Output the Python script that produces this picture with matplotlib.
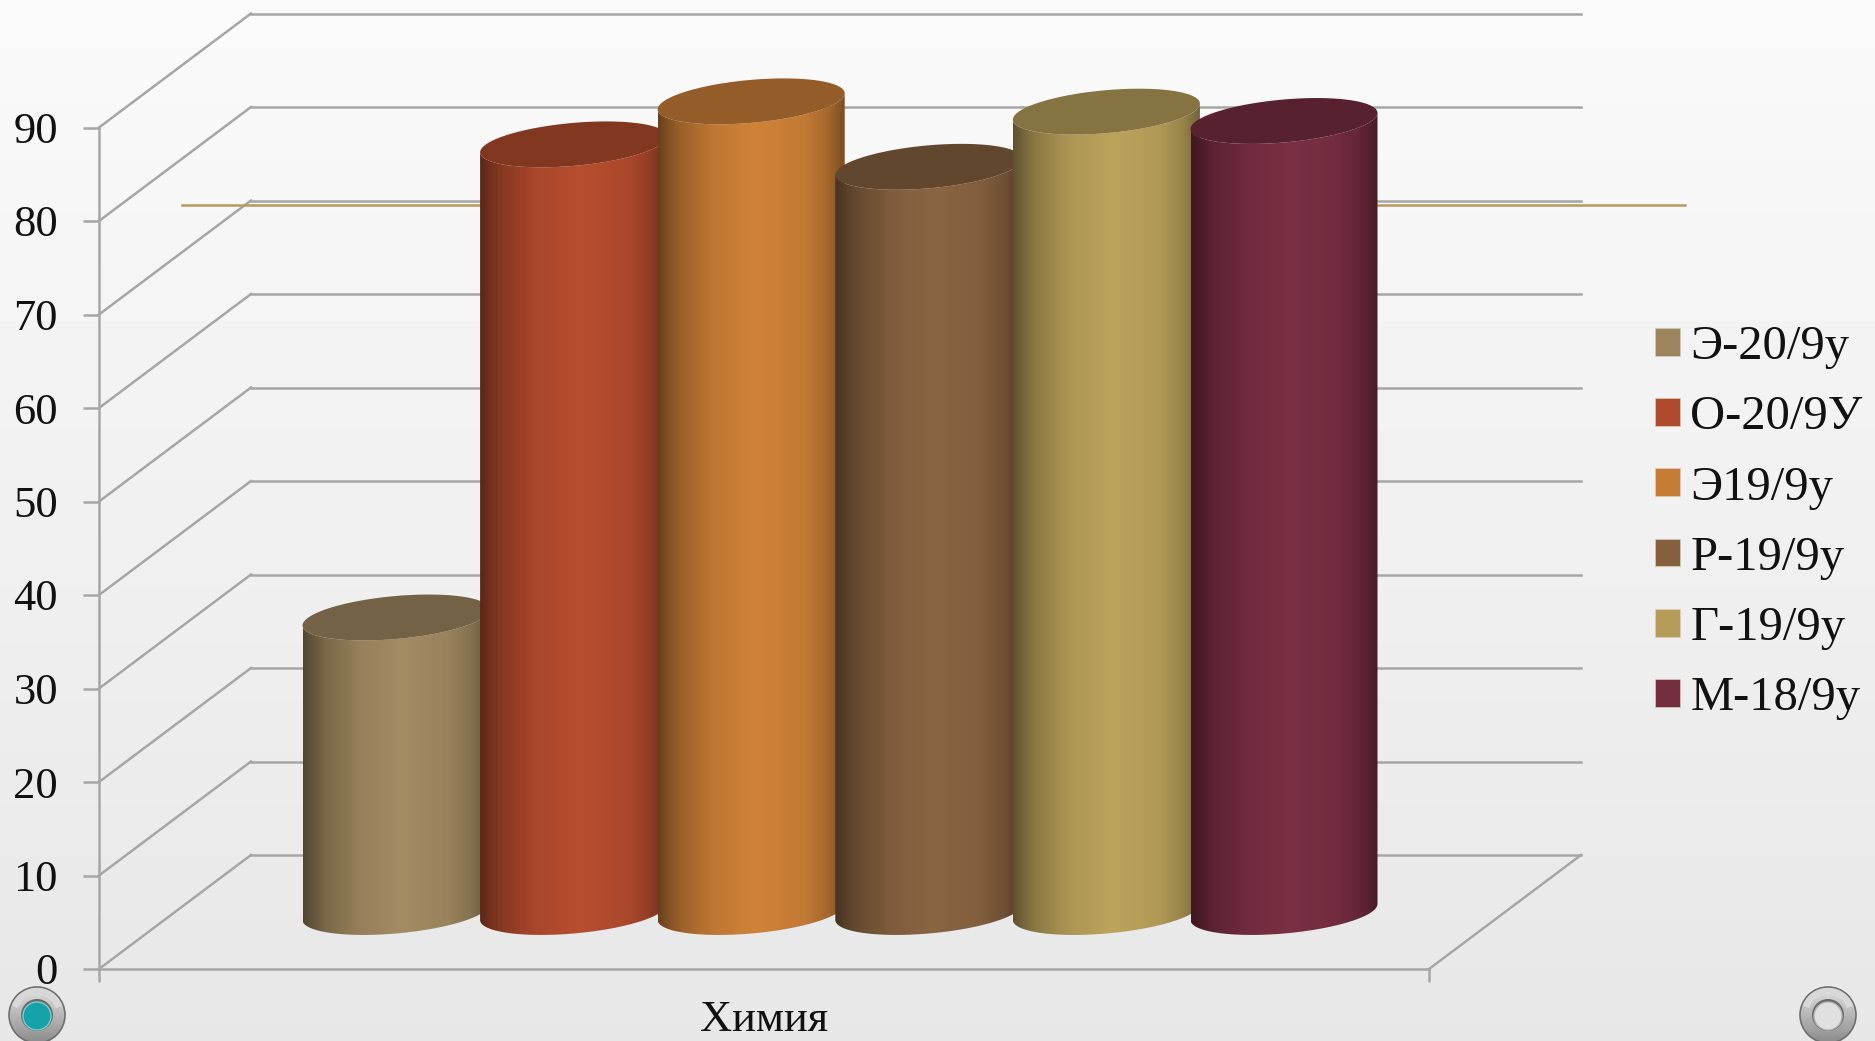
import numpy as np
import matplotlib
matplotlib.use("Agg")
import matplotlib.pyplot as plt
from matplotlib.patches import Circle, Patch, PathPatch, Wedge
from matplotlib.path import Path
from matplotlib.colors import to_rgb

# ---------- data ----------
category = ["Химия"]
series_names = ["Э-20/9у", "О-20/9У", "Э19/9у", "Р-19/9у", "Г-19/9у", "М-18/9у"]
series_values = [31.5, 82.1, 86.7, 79.7, 85.6, 84.6]
series_colors = ["#9C855E", "#AF4A2D", "#C77C36", "#84603F", "#B49C58", "#752D40"]
y_ticks = [0, 10, 20, 30, 40, 50, 60, 70, 80, 90]
reference_level = 81.7

# ---------- layout (pixels of the 1875x1041 canvas) ----------
W, H = 1875, 1041
DPI = 100
LEFT, RIGHT, BOTTOM, TOP = 99, 1429, 969, 127.5
PX_PER_UNIT = (BOTTOM - TOP) / 90
DEPTH_X = 152
DEPTH_Y = 114 / PX_PER_UNIT
GRID = "#A6A6A6"
FONT = ["Liberation Serif", "DejaVu Serif"]
FS = 32
LEGEND_FS = 35
BAR_STEP = 177.6
HALF_W = 93.5
TILT = 8 / PX_PER_UNIT
HALF_H = 21.5 / PX_PER_UNIT
LW = 1.8

plt.rcParams["font.family"] = FONT
fig = plt.figure(figsize=(W / DPI, H / DPI), dpi=DPI)

# ---------- slide background ----------
bg = fig.add_axes([0, 0, 1, 1], zorder=-1)
bg.set_xlim(0, W)
bg.set_ylim(H, 0)
bg.axis("off")
bg_grad = np.linspace(0.98, 0.905, 256).reshape(-1, 1)
bg.imshow(bg_grad, cmap="gray", vmin=0, vmax=1, extent=[0, W, H, 0], aspect="auto", zorder=0)


def button(cx, cy, inner, inner_edge):
    ring = np.linspace(0.88, 0.55, 64).reshape(-1, 1)
    disc = Circle((cx, cy), 28, facecolor="none", edgecolor="#6E6E6E", lw=1.2, zorder=3)
    bg.add_patch(disc)
    im = bg.imshow(ring, cmap="gray", vmin=0, vmax=1, extent=[cx - 28, cx + 28, cy + 28, cy - 28],
                   aspect="auto", zorder=2)
    im.set_clip_path(Circle((cx, cy), 28, transform=bg.transData))
    bg.add_patch(Wedge((cx, cy), 27, 200, 340, width=7, facecolor="#D8D8D8", edgecolor="none", zorder=3))
    bg.add_patch(Circle((cx, cy), 16, facecolor="#6A6A6A", edgecolor="none", zorder=4))
    bg.add_patch(Circle((cx, cy + 1), 14, facecolor=inner, edgecolor=inner_edge, lw=1, zorder=5))


button(37, 1015, "#13A3A8", "#7CCBCB")
button(1828, 1015, "#E0E0E0", "#B5B5B5")
bg.set_xlim(0, W)
bg.set_ylim(H, 0)

# ---------- chart axes: front plane of the 3D box ----------
ax = fig.add_axes([LEFT / W, 1 - BOTTOM / H, (RIGHT - LEFT) / W, (BOTTOM - TOP) / H])
ax.patch.set_alpha(0)
ax.set_xlim(0, RIGHT - LEFT)
ax.set_ylim(0, 90)
for side in ("top", "right"):
    ax.spines[side].set_visible(False)
for side in ("left", "bottom"):
    ax.spines[side].set_color(GRID)
    ax.spines[side].set_linewidth(LW)
ax.set_yticks(y_ticks)
ax.tick_params(axis="y", length=11.5, width=LW, color=GRID, pad=18, labelsize=FS, labelcolor="#111111")
ax.set_xticks([(RIGHT - LEFT) / 2])
ax.set_xticklabels(category)
ax.tick_params(axis="x", which="major", length=0, pad=22, labelsize=FS, labelcolor="#111111")
ax.set_xticks([0, RIGHT - LEFT], minor=True)
ax.tick_params(axis="x", which="minor", length=9.5, width=LW, color=GRID)

# back wall, side wall and floor
x_end = RIGHT - LEFT
for v in y_ticks:
    ax.plot([0, DEPTH_X], [v, v + DEPTH_Y], color=GRID, lw=LW, clip_on=False, zorder=1)
    ax.plot([DEPTH_X, x_end + DEPTH_X], [v + DEPTH_Y] * 2, color=GRID, lw=LW, clip_on=False, zorder=1)
ax.plot([x_end, x_end + DEPTH_X], [0, DEPTH_Y], color=GRID, lw=LW, clip_on=False, zorder=1)

# reference line drawn across the slide
ax.plot([83, 1586], [reference_level] * 2, color="#B89A5E", lw=1.8, clip_on=False, zorder=1.5)

# ---------- cylinders ----------
ramp_t = [0, 0.04, 0.12, 0.3, 0.53, 0.78, 0.9, 0.96, 1]
ramp_f = [0.52, 0.62, 0.78, 0.96, 1.05, 0.98, 0.85, 0.72, 0.62]
theta_low = np.linspace(0, np.pi, 80)
theta_all = np.linspace(0, 2 * np.pi, 160)
centre_x = x_end / 2 + DEPTH_X / 2
base_y = DEPTH_Y / 2

for i, (value, colour) in enumerate(zip(series_values, series_colors)):
    cx = centre_x + (i - 2.5) * BAR_STEP
    top_y = base_y + value
    z = 3 + i

    low_x = cx + HALF_W * np.cos(theta_low)
    bottom_edge = base_y + TILT * np.cos(theta_low) - HALF_H * np.sin(theta_low)
    top_edge = top_y + TILT * np.cos(theta_low) - HALF_H * np.sin(theta_low)
    verts = np.vstack([np.column_stack([low_x, bottom_edge]),
                       np.column_stack([low_x[::-1], top_edge[::-1]])])
    side_path = Path(np.vstack([verts, verts[0]]), closed=True)
    side_patch = PathPatch(side_path, facecolor="none", edgecolor="none", transform=ax.transData)

    rgb = np.array(to_rgb(colour))
    factor = np.interp(np.linspace(0, 1, 256), ramp_t, ramp_f)
    strip = np.clip(factor[None, :, None] * rgb[None, None, :], 0, 1)
    ymin, ymax = bottom_edge.min(), top_y + TILT
    im = ax.imshow(strip, extent=[cx - HALF_W, cx + HALF_W, ymin, ymax], aspect="auto",
                   origin="lower", zorder=z, interpolation="bilinear")
    im.set_clip_path(side_patch)
    im.set_clip_box(fig.bbox)

    cap_x = cx + HALF_W * np.cos(theta_all)
    cap_y = top_y + TILT * np.cos(theta_all) - HALF_H * np.sin(theta_all)
    ax.fill(cap_x, cap_y, color=np.clip(rgb * 0.74, 0, 1), lw=0, clip_on=False, zorder=z + 0.5)

ax.set_xlim(0, x_end)
ax.set_ylim(0, 90)

# ---------- legend ----------
handles = [Patch(facecolor=c, edgecolor="#D9CDB8", lw=0.5) for c in series_colors]
fig.legend(handles, series_names, loc="upper left", bbox_to_anchor=(1655 / W, 1 - 325 / H),
           frameon=False, fontsize=LEGEND_FS, borderpad=0, borderaxespad=0,
           handlelength=0.505, handleheight=0.505, handletextpad=0.22,
           labelspacing=0.54, labelcolor="#111111")

fig.savefig("out.png", dpi=DPI)
